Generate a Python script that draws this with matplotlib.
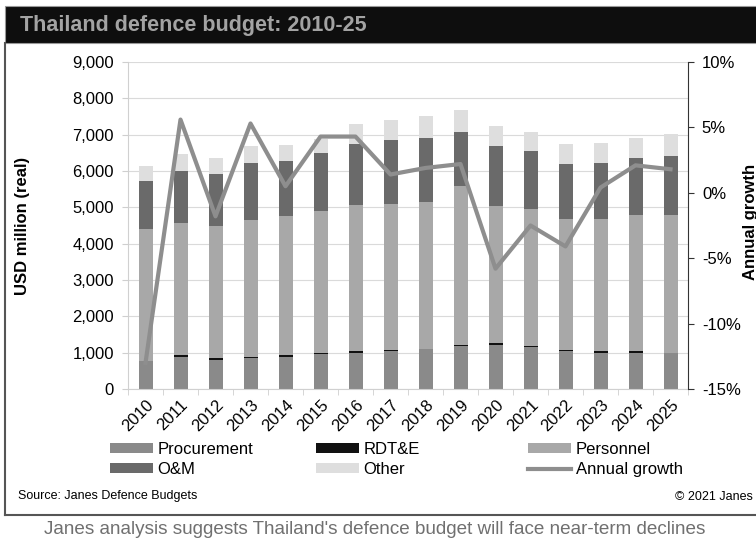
import matplotlib.pyplot as plt
from matplotlib.patches import Rectangle, Patch
from matplotlib.lines import Line2D
from matplotlib.ticker import FuncFormatter, FixedLocator
import numpy as np

plt.rcParams['font.family'] = ['Liberation Sans', 'DejaVu Sans']

years = [str(y) for y in range(2010, 2026)]
procurement = [760, 880, 810, 840, 880, 950, 1000, 1040, 1090, 1170, 1220, 1150, 1040, 980, 980, 990]
rdte = [15, 65, 40, 50, 50, 30, 40, 20, 20, 50, 50, 40, 40, 60, 70, 10]
personnel = [3615, 3625, 3650, 3770, 3820, 3910, 4020, 4040, 4040, 4360, 3760, 3770, 3610, 3650, 3750, 3800]
om = [1330, 1440, 1430, 1560, 1520, 1610, 1690, 1760, 1760, 1490, 1650, 1580, 1510, 1530, 1560, 1600]
other = [430, 470, 430, 460, 450, 380, 550, 530, 610, 620, 570, 520, 550, 550, 550, 620]
growth = [-13.0, 5.6, -1.8, 5.3, 0.5, 4.3, 4.3, 1.4, 1.9, 2.2, -5.8, -2.5, -4.1, 0.4, 2.1, 1.8]

series = [('Procurement', procurement, '#8a8a8a'),
          ('RDT&E', rdte, '#111111'),
          ('Personnel', personnel, '#a8a8a8'),
          ('O&M', om, '#6a6a6a'),
          ('Other', other, '#dedede')]
line_color = '#8e8e8e'

W, H = 756, 539
fig = plt.figure(figsize=(W / 100, H / 100), dpi=100)

# title bar and frame
fig.patches.append(Rectangle((5 / W, 1 - 43 / H), 1, 37 / H, transform=fig.transFigure,
                             facecolor='#0e0e0e', edgecolor='#999999', lw=0.8, zorder=0))
fig.text(20 / W, 1 - 25 / H, 'Thailand defence budget: 2010-25', color='#a3a3a3',
         fontsize=15.5, fontweight='bold', va='center', ha='left')
fig.add_artist(Line2D([5 / W, 5 / W], [1 - 43 / H, 1 - 515 / H], transform=fig.transFigure,
                      color='#555555', lw=1.5))
fig.add_artist(Line2D([5 / W, 1], [1 - 515 / H, 1 - 515 / H], transform=fig.transFigure,
                      color='#555555', lw=1.5))

ax = fig.add_axes([128 / W, 1 - 389 / H, (688 - 128) / W, (389 - 62) / H])
x = np.arange(len(years))
bottom = np.zeros(len(years))
for name, vals, col in series:
    ax.bar(x, vals, width=0.4, bottom=bottom, color=col, zorder=2)
    bottom += np.array(vals)

ax.set_xlim(-0.5, len(years) - 0.5)
ax.set_ylim(0, 9000)
ax.set_yticks(range(0, 9001, 1000))
ax.yaxis.set_major_formatter(FuncFormatter(lambda v, p: f'{int(v):,}'))
ax.grid(axis='y', color='#dadada', lw=0.8, zorder=0)
ax.set_xticks(x)
ax.set_xticklabels(years, rotation=45, ha='right', va='top', rotation_mode='anchor', fontsize=12)
ax.tick_params(axis='x', length=0, pad=6)
ax.xaxis.set_minor_locator(FixedLocator(np.arange(-0.5, len(years), 1)))
ax.tick_params(axis='x', which='minor', length=4, color='#cfcfcf')
ax.tick_params(axis='y', labelsize=12, length=4, color='#cfcfcf', pad=6)
for s in ['top', 'right']:
    ax.spines[s].set_visible(False)
ax.spines['left'].set_color('#d0d0d0')
ax.spines['bottom'].set_color('#d0d0d0')
ax.set_ylabel('USD million (real)', fontsize=12, fontweight='bold')
ax.yaxis.set_label_coords(-0.175, 0.5)

ax2 = ax.twinx()
ax2.plot(x, growth, color=line_color, lw=3, zorder=3)
ax2.set_ylim(-15, 10)
ax2.set_yticks(range(-15, 11, 5))
ax2.yaxis.set_major_formatter(FuncFormatter(lambda v, p: f'{int(v)}%'))
ax2.tick_params(axis='y', labelsize=12, length=4, color='#333333', pad=6)
for s in ['top', 'left', 'bottom']:
    ax2.spines[s].set_visible(False)
ax2.spines['right'].set_color('#333333')
fig.text(750 / W, 1 - 222 / H, 'Annual growth', rotation=90, fontsize=12,
         fontweight='bold', ha='center', va='center')

# legend in three columns
h = {name: Patch(facecolor=col, label=name) for name, vals, col in series}
h['Annual growth'] = Line2D([], [], color=line_color, lw=3, label='Annual growth')
cols = [(['Procurement', 'O&M'], 110), (['RDT&E', 'Other'], 316), (['Personnel', 'Annual growth'], 528)]
for names, px in cols:
    fig.legend(handles=[h[n] for n in names], loc='upper left',
               bbox_to_anchor=(px / W, 1 - 442 / H), frameon=False, fontsize=12,
               handlelength=2.6, handleheight=0.5, handletextpad=0.25,
               labelspacing=0.3, borderpad=0, borderaxespad=0)

fig.text(18 / W, 1 - 496 / H, 'Source: Janes Defence Budgets', fontsize=9, va='center')
fig.text(753 / W, 1 - 497 / H, '\u00a9 2021 Janes', fontsize=9, va='center', ha='right')
fig.text(375 / W, 1 - 529 / H,
         "Janes analysis suggests Thailand's defence budget will face near-term declines",
         fontsize=13.6, color='#707070', ha='center', va='center')

fig.savefig('out.png', dpi=100)
